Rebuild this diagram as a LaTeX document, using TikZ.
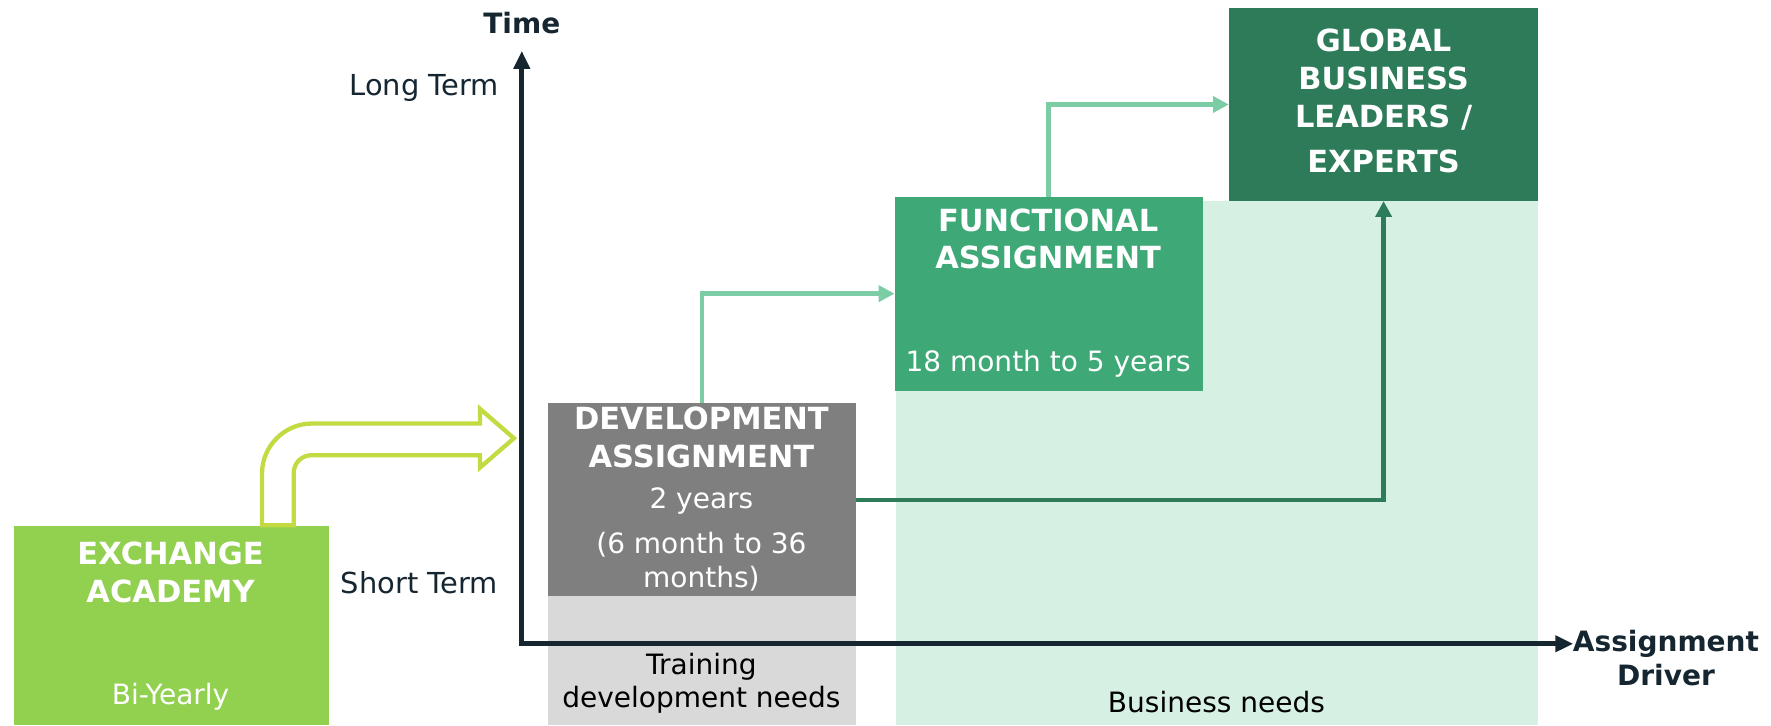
\documentclass[tikz,border=0pt]{standalone}
\usepackage{fontspec}
\setmainfont{DejaVu Sans}
\usetikzlibrary{arrows.meta}

\definecolor{axisnavy}{RGB}{21,38,49}
\definecolor{exgreen}{RGB}{146,208,80}
\definecolor{limeline}{RGB}{195,218,66}
\definecolor{devdark}{RGB}{127,127,127}
\definecolor{devlight}{RGB}{217,217,217}
\definecolor{funcgreen}{RGB}{62,168,118}
\definecolor{globgreen}{RGB}{46,123,89}
\definecolor{mintbg}{RGB}{214,240,227}
\definecolor{lightlink}{RGB}{124,205,166}

\tikzset{
  block/.style={rectangle, inner sep=0pt, outer sep=0pt, draw=none},
  headtxt/.style={text=white, font=\fontsize{13.5pt}{16.7pt}\selectfont\bfseries, align=center},
  bodytxt/.style={font=\fontsize{12.4pt}{14.8pt}\selectfont, align=center},
  axislbl/.style={text=axisnavy, font=\fontsize{12.4pt}{15pt}\selectfont\bfseries, align=center},
  termlbl/.style={text=axisnavy, font=\fontsize{12.8pt}{15pt}\selectfont, anchor=east, inner sep=0pt},
  axisline/.style={line width=2.2pt, draw=axisnavy, line join=miter,
    arrows={Triangle[length=8pt,width=7pt]-Triangle[length=8pt,width=7pt]}},
  link/.style={line width=2pt, arrows={-Triangle[length=7pt,width=7pt]}},
}

\begin{document}
\begin{tikzpicture}[x=0.5pt, y=-0.5pt]
  % canvas: 1568 x 642 (y runs downwards)
  \useasboundingbox (0,0) rectangle (1568,642);

  % Business needs area
  \node[block, fill=mintbg, minimum width=284.5pt, minimum height=232pt] (biz) at (1077.5,410) {};

  % Boxes
  \node[block, fill=exgreen, minimum width=139.5pt, minimum height=88pt] (exch) at (151.5,554) {};
  \node[block, fill=devlight, minimum width=136.5pt, minimum height=57pt] (train) at (621.5,585) {};
  \node[block, fill=devdark, minimum width=136.5pt, minimum height=85.5pt] (dev) at (621.5,442.5) {};
  \node[block, fill=funcgreen, minimum width=136.5pt, minimum height=86pt] (func) at (928.5,260) {};
  \node[block, fill=globgreen, minimum width=137pt, minimum height=85.5pt] (glob) at (1225,92.5) {};

  % Hollow bent arrow out of the exchange academy
  \draw[limeline, line width=1.9pt, line join=miter]
    (232,465) -- (232,419) .. controls (232,395) and (252,375) .. (276,375)
    -- (425,375) -- (425,362) -- (455,388) -- (425,414) -- (425,403)
    -- (276,403) .. controls (267,403) and (260,410) .. (260,419)
    -- (260,465) -- cycle;

  % Career links
  \draw[link, lightlink] (dev.north) |- (func.west);
  \draw[link, lightlink] (func.north) |- (glob.west);
  \draw[link, globgreen] (dev.east) -| (glob.south);

  % Axes
  \coordinate (ytip) at (462,45);
  \coordinate (origin) at (462,570);
  \coordinate (xtip) at (1393,570);
  \draw[axisline] (ytip) -- (origin) -- (xtip);

  % Axis labels
  \node[axislbl] (timelbl) at (462,20) {Time};
  \node[axislbl] (drvlbl) at (1475,583) {Assignment\\Driver};
  \node[termlbl] (longlbl) at (442,78) {Long Term};
  \node[termlbl] (shortlbl) at (441,516) {Short Term};

  % Box texts
  \node[headtxt] (exchhead) at (151,506.5) {EXCHANGE\\ACADEMY};
  \node[bodytxt, text=white] (exchtime) at (151,617) {Bi-Yearly};
  \node[headtxt] (devhead) at (621,387.5) {DEVELOPMENT\\ASSIGNMENT};
  \node[bodytxt, text=white] (devtime) at (621,444) {2 years};
  \node[bodytxt, text=white] (devrange) at (621,497.5) {(6 month to 36\\months)};
  \node[bodytxt, text=black] (trainlbl) at (621,605) {Training\\development needs};
  \node[headtxt] (funchead) at (928,211.5) {FUNCTIONAL\\ASSIGNMENT};
  \node[bodytxt, text=white] (functime) at (928,322) {18 month to 5 years};
  \node[headtxt] (globhead) at (1225,89.5) {GLOBAL\\BUSINESS\\LEADERS /\\[3.2pt]EXPERTS};
  \node[bodytxt, text=black] (bizlbl) at (1077,622) {Business needs};
\end{tikzpicture}
\end{document}
